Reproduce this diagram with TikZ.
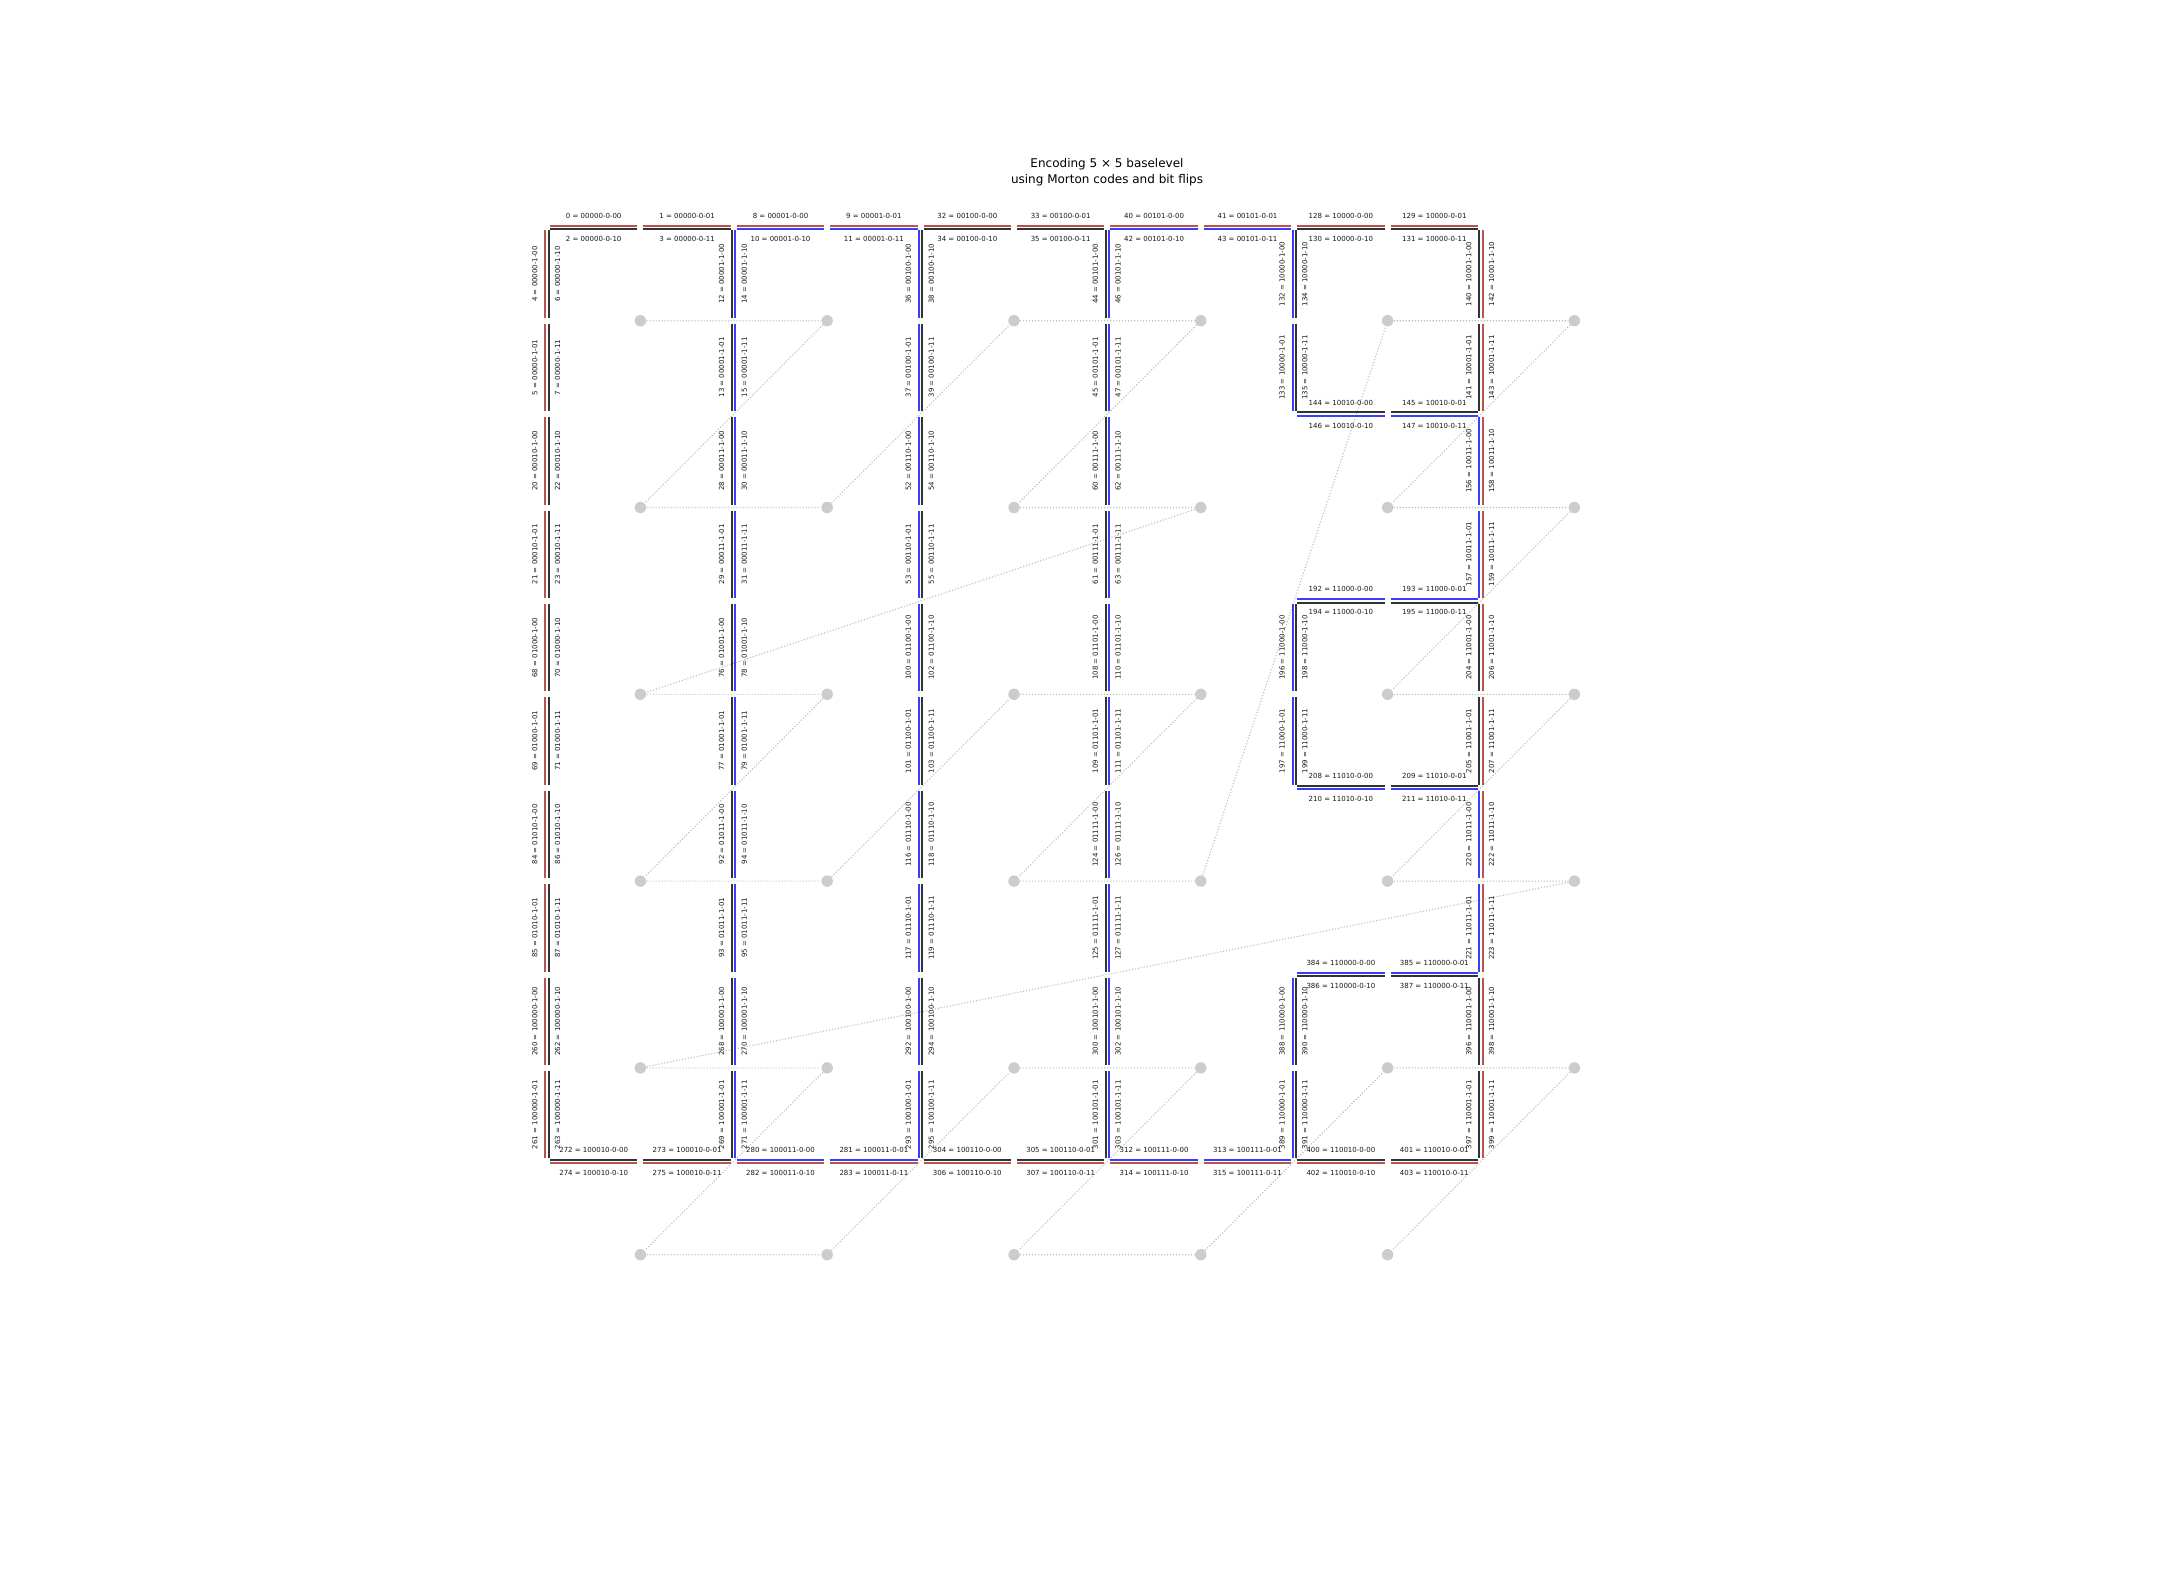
\documentclass[tikz,border=0pt]{standalone}
\usepackage{fontspec}
\setmainfont{DejaVu Sans}
\definecolor{ered}{HTML}{B85450}
\definecolor{eblue}{HTML}{3C3CFF}
\definecolor{eblack}{HTML}{333333}
\definecolor{dotgray}{HTML}{CCCCCC}
\definecolor{curvegray}{HTML}{BDBDBD}
\tikzset{
  edgestroke/.style={line width=1pt, line cap=butt},
  lbl/.style={inner sep=0pt, font=\fontsize{3.5}{4}\selectfont, text=black!90},
  celldot/.style={circle, fill=dotgray, draw=none, minimum size=5.7pt, inner sep=0pt},
  zcurve/.style={curvegray, line width=0.55pt, dash pattern=on 0.55pt off 0.95pt},
  titletext/.style={font=\fontsize{6}{7}\selectfont, anchor=base, inner sep=0pt},
}
% horizontal cell edge: col,row,code,binary,top colour,bottom colour
\newcommand{\HEdge}[6]{%
  \pgfmathsetmacro{\myEx}{547+186.8*#1}%
  \pgfmathsetmacro{\myEy}{227.3+186.8*#2}%
  \pgfmathtruncatemacro{\myNa}{8*#3}%
  \pgfmathtruncatemacro{\myNb}{8*#3+1}%
  \pgfmathtruncatemacro{\myNc}{8*#3+2}%
  \pgfmathtruncatemacro{\myNd}{8*#3+3}%
  \draw[edgestroke,#5] (\myEx+3,\myEy-1.65) -- (\myEx+90.4,\myEy-1.65);
  \draw[edgestroke,#5] (\myEx+96.4,\myEy-1.65) -- (\myEx+183.8,\myEy-1.65);
  \draw[edgestroke,#6] (\myEx+3,\myEy+1.65) -- (\myEx+90.4,\myEy+1.65);
  \draw[edgestroke,#6] (\myEx+96.4,\myEy+1.65) -- (\myEx+183.8,\myEy+1.65);
  \node[lbl] (e\myNa) at (\myEx+46.7,\myEy-11.5) {\myNa{} = #4-0-00};
  \node[lbl] (e\myNb) at (\myEx+140.1,\myEy-11.5) {\myNb{} = #4-0-01};
  \node[lbl] (e\myNc) at (\myEx+46.7,\myEy+11.4) {\myNc{} = #4-0-10};
  \node[lbl] (e\myNd) at (\myEx+140.1,\myEy+11.4) {\myNd{} = #4-0-11};
}
% vertical cell edge: col,row,code,binary,left colour,right colour
\newcommand{\VEdge}[6]{%
  \pgfmathsetmacro{\myEx}{547+186.8*#1}%
  \pgfmathsetmacro{\myEy}{227.3+186.8*#2}%
  \pgfmathtruncatemacro{\myNa}{8*#3+4}%
  \pgfmathtruncatemacro{\myNb}{8*#3+5}%
  \pgfmathtruncatemacro{\myNc}{8*#3+6}%
  \pgfmathtruncatemacro{\myNd}{8*#3+7}%
  \draw[edgestroke,#5] (\myEx-1.65,\myEy+3) -- (\myEx-1.65,\myEy+90.4);
  \draw[edgestroke,#5] (\myEx-1.65,\myEy+96.4) -- (\myEx-1.65,\myEy+183.8);
  \draw[edgestroke,#6] (\myEx+1.65,\myEy+3) -- (\myEx+1.65,\myEy+90.4);
  \draw[edgestroke,#6] (\myEx+1.65,\myEy+96.4) -- (\myEx+1.65,\myEy+183.8);
  \node[lbl,rotate=90] (e\myNa) at (\myEx-12.2,\myEy+46.7) {\myNa{} = #4-1-00};
  \node[lbl,rotate=90] (e\myNb) at (\myEx-12.2,\myEy+140.1) {\myNb{} = #4-1-01};
  \node[lbl,rotate=90] (e\myNc) at (\myEx+10.6,\myEy+46.7) {\myNc{} = #4-1-10};
  \node[lbl,rotate=90] (e\myNd) at (\myEx+10.6,\myEy+140.1) {\myNd{} = #4-1-11};
}
\begin{document}
\begin{tikzpicture}[x=0.5pt,y=-0.5pt]
\fill[white] (0,0) rectangle (2160,1584);
\useasboundingbox (0,0) rectangle (2160,1584);

% title
\node[titletext] (t1) at (1107,167.3) {Encoding 5 × 5 baselevel};
\node[titletext] (t2) at (1107,184) {using Morton codes and bit flips};

% cell centres in Morton order
\foreach \c/\i/\j in {0/0/0,1/1/0,2/0/1,3/1/1,4/2/0,5/3/0,6/2/1,7/3/1,
  8/0/2,9/1/2,10/0/3,11/1/3,12/2/2,13/3/2,14/2/3,15/3/3,
  16/4/0,17/5/0,18/4/1,19/5/1,24/4/2,25/5/2,26/4/3,27/5/3,
  32/0/4,33/1/4,34/0/5,35/1/5,36/2/4,37/3/4,38/2/5,39/3/5,
  48/4/4,49/5/4,50/4/5}
  \node[celldot] (d\c) at (640.4+186.8*\i,320.7+186.8*\j) {};

\draw[zcurve] (d0) -- (d1) -- (d2) -- (d3) -- (d4) -- (d5) -- (d6) -- (d7)
  -- (d8) -- (d9) -- (d10) -- (d11) -- (d12) -- (d13) -- (d14) -- (d15)
  -- (d16) -- (d17) -- (d18) -- (d19) -- (d24) -- (d25) -- (d26) -- (d27)
  -- (d32) -- (d33) -- (d34) -- (d35) -- (d36) -- (d37) -- (d38) -- (d39)
  -- (d48) -- (d49) -- (d50);

% horizontal edges
\HEdge{0}{0}{0}{00000}{ered}{eblack}
\HEdge{1}{0}{1}{00001}{ered}{eblue}
\HEdge{2}{0}{4}{00100}{ered}{eblack}
\HEdge{3}{0}{5}{00101}{ered}{eblue}
\HEdge{4}{0}{16}{10000}{ered}{eblack}
\HEdge{4}{1}{18}{10010}{eblack}{eblue}
\HEdge{4}{2}{24}{11000}{eblue}{eblack}
\HEdge{4}{3}{26}{11010}{eblack}{eblue}
\HEdge{4}{4}{48}{110000}{eblue}{eblack}
\HEdge{0}{5}{34}{100010}{eblack}{ered}
\HEdge{1}{5}{35}{100011}{eblue}{ered}
\HEdge{2}{5}{38}{100110}{eblack}{ered}
\HEdge{3}{5}{39}{100111}{eblue}{ered}
\HEdge{4}{5}{50}{110010}{eblack}{ered}

% vertical edges
\VEdge{0}{0}{0}{00000}{ered}{eblack}
\VEdge{0}{1}{2}{00010}{ered}{eblack}
\VEdge{0}{2}{8}{01000}{ered}{eblack}
\VEdge{0}{3}{10}{01010}{ered}{eblack}
\VEdge{0}{4}{32}{100000}{ered}{eblack}
\VEdge{1}{0}{1}{00001}{eblack}{eblue}
\VEdge{1}{1}{3}{00011}{eblack}{eblue}
\VEdge{1}{2}{9}{01001}{eblack}{eblue}
\VEdge{1}{3}{11}{01011}{eblack}{eblue}
\VEdge{1}{4}{33}{100001}{eblack}{eblue}
\VEdge{2}{0}{4}{00100}{eblue}{eblack}
\VEdge{2}{1}{6}{00110}{eblue}{eblack}
\VEdge{2}{2}{12}{01100}{eblue}{eblack}
\VEdge{2}{3}{14}{01110}{eblue}{eblack}
\VEdge{2}{4}{36}{100100}{eblue}{eblack}
\VEdge{3}{0}{5}{00101}{eblack}{eblue}
\VEdge{3}{1}{7}{00111}{eblack}{eblue}
\VEdge{3}{2}{13}{01101}{eblack}{eblue}
\VEdge{3}{3}{15}{01111}{eblack}{eblue}
\VEdge{3}{4}{37}{100101}{eblack}{eblue}
\VEdge{4}{0}{16}{10000}{eblue}{eblack}
\VEdge{4}{2}{24}{11000}{eblue}{eblack}
\VEdge{4}{4}{48}{110000}{eblue}{eblack}
\VEdge{5}{0}{17}{10001}{eblack}{ered}
\VEdge{5}{1}{19}{10011}{eblue}{ered}
\VEdge{5}{2}{25}{11001}{eblack}{ered}
\VEdge{5}{3}{27}{11011}{eblue}{ered}
\VEdge{5}{4}{49}{110001}{eblack}{ered}
\end{tikzpicture}
\end{document}
